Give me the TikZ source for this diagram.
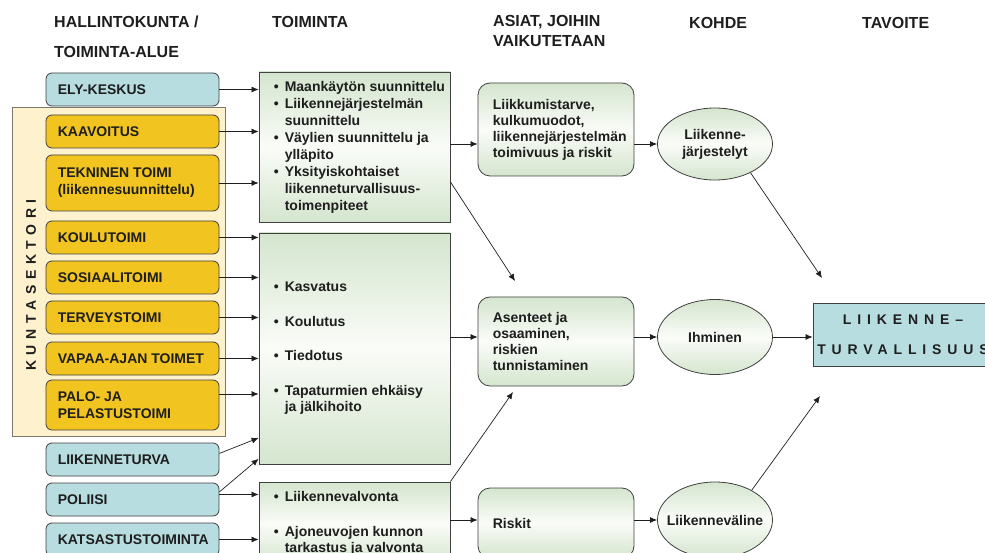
\documentclass[tikz,border=0pt]{standalone}
\usepackage{fontspec}
\setmainfont{Liberation Sans}
\usetikzlibrary{shapes.geometric,arrows.meta}
\definecolor{bluefill}{RGB}{183,221,224}
\definecolor{yellowfill}{RGB}{242,196,32}
\definecolor{kuntabg}{RGB}{254,242,206}
\definecolor{kuntaedge}{RGB}{120,120,110}
\definecolor{greenshade}{RGB}{212,229,206}
\definecolor{greenlight}{RGB}{250,252,248}
\definecolor{edge}{RGB}{64,64,64}
\definecolor{ink}{RGB}{30,30,30}
\newcommand\bul{\makebox[11pt][l]{•}}
\newcommand\ind{\hspace*{11pt}}
\begin{document}
\begin{tikzpicture}[x=1pt,y=-1pt,
  font=\fontsize{14}{17}\selectfont\bfseries, text=ink,
  leftbox/.style={draw=edge, line width=0.8pt, rounded corners=6pt, minimum width=173pt, inner sep=0pt},
  bluebox/.style={leftbox, fill=bluefill},
  yelbox/.style={leftbox, fill=yellowfill},
  greenfill/.style={top color=greenshade, bottom color=greenshade, middle color=greenlight},
  actbox/.style={draw=edge, line width=0.8pt, minimum width=191pt, inner sep=0pt, greenfill},
  issuebox/.style={draw=edge, line width=0.8pt, rounded corners=12pt, minimum width=156pt, inner sep=0pt, greenfill},
  targetell/.style={ellipse, draw=edge, line width=0.8pt, minimum width=115pt, inner sep=0pt, greenfill},
  lbl/.style={anchor=west, inner sep=0pt, align=left},
  ctr/.style={inner sep=0pt, align=center},
  hdr/.style={anchor=base west, inner sep=0pt, font=\fontsize{16}{19}\selectfont\bfseries},
  arr/.style={draw=ink, line width=0.7pt, -{Latex[length=7pt,width=6pt]}}
]
\useasboundingbox (0,0) rectangle (985,553);
\clip (0,0) rectangle (985,553);

% headers
\node[hdr] (h1a) at (54,28) {HALLINTOKUNTA /};
\node[hdr] (h1b) at (54,58) {TOIMINTA-ALUE};
\node[hdr] (h2) at (272,28) {TOIMINTA};
\node[hdr] (h3a) at (493,27) {ASIAT, JOIHIN};
\node[hdr] (h3b) at (493,47) {VAIKUTETAAN};
\node[hdr] (h4) at (689,29) {KOHDE};
\node[hdr] (h5) at (862,29) {TAVOITE};

% kuntasektori background
\node[draw=kuntaedge, line width=0.9pt, fill=kuntabg, minimum width=213pt, minimum height=329pt, inner sep=0pt] (kunta) at (118.5,271.5) {};
\node[rotate=90, inner sep=0pt] (kuntat) at (31,285) {\addfontfeature{LetterSpace=40}KUNTASEKTORI};

% left column
\node[bluebox, minimum height=33pt] (ely) at (132.5,89.5) {};
\node[yelbox, minimum height=33pt] (kaav) at (132.5,131.5) {};
\node[yelbox, minimum height=56pt] (tekn) at (132.5,183) {};
\node[yelbox, minimum height=33pt] (koul) at (132.5,237.5) {};
\node[yelbox, minimum height=33pt] (sos) at (132.5,277.5) {};
\node[yelbox, minimum height=33pt] (terv) at (132.5,317.5) {};
\node[yelbox, minimum height=33pt] (vapaa) at (132.5,358.5) {};
\node[yelbox, minimum height=50pt] (palo) at (132.5,405) {};
\node[bluebox, minimum height=33pt] (lt) at (132.5,459.5) {};
\node[bluebox, minimum height=33pt] (po) at (132.5,499.5) {};
\node[bluebox, minimum height=33pt] (kat) at (132.5,539.5) {};

\node[lbl] (elyt) at ([xshift=12pt]ely.west) {ELY-KESKUS};
\node[lbl] (kaavt) at ([xshift=12pt]kaav.west) {KAAVOITUS};
\node[lbl] (teknt) at ([xshift=12pt]tekn.west) {TEKNINEN TOIMI\\(liikennesuunnittelu)};
\node[lbl] (koult) at ([xshift=12pt]koul.west) {KOULUTOIMI};
\node[lbl] (sost) at ([xshift=12pt]sos.west) {SOSIAALITOIMI};
\node[lbl] (tervt) at ([xshift=12pt]terv.west) {TERVEYSTOIMI};
\node[lbl] (vapaat) at ([xshift=12pt]vapaa.west) {VAPAA-AJAN TOIMET};
\node[lbl] (palot) at ([xshift=12pt]palo.west) {PALO- JA\\PELASTUSTOIMI};
\node[lbl] (ltt) at ([xshift=12pt]lt.west) {LIIKENNETURVA};
\node[lbl] (pot) at ([xshift=12pt]po.west) {POLIISI};
\node[lbl] (katt) at ([xshift=12pt]kat.west) {KATSASTUSTOIMINTA};

% toiminta
\node[actbox, minimum height=150pt] (t1) at (354.5,147) {};
\node[actbox, minimum height=231pt] (t2) at (354.5,348.5) {};
\node[actbox, minimum height=83pt] (t3) at (354.5,523.5) {};
\node[lbl] (t1t) at ([xshift=15pt]t1.west) {\bul Maankäytön suunnittelu\\ \bul Liikennejärjestelmän\\ \ind suunnittelu\\ \bul Väylien suunnittelu ja\\ \ind ylläpito\\ \bul Yksityiskohtaiset\\ \ind liikenneturvallisuus-\\ \ind toimenpiteet};
\node[lbl, font=\fontsize{14}{16.5}\selectfont\bfseries] (t2t) at ([xshift=15pt]t2.west) {\bul Kasvatus\\[18pt] \bul Koulutus\\[18pt] \bul Tiedotus\\[18pt] \bul Tapaturmien ehkäisy\\ \ind ja jälkihoito};
\node[lbl, font=\fontsize{14}{16.5}\selectfont\bfseries] (t3t) at ([xshift=15pt]t3.west) {\bul Liikennevalvonta\\[18pt] \bul Ajoneuvojen kunnon\\ \ind tarkastus ja valvonta};

% asiat
\node[issuebox, minimum height=93pt] (a1) at (556,129.5) {};
\node[issuebox, minimum height=89pt] (a2) at (556,341.5) {};
\node[issuebox, minimum height=70pt] (a3) at (556,523) {};
\node[lbl, font=\fontsize{14}{16}\selectfont\bfseries] (a1t) at ([xshift=15pt]a1.west) {Liikkumistarve,\\kulkumuodot,\\liikennejärjestelmän\\toimivuus ja riskit};
\node[lbl, font=\fontsize{14}{16}\selectfont\bfseries] (a2t) at ([xshift=15pt]a2.west) {Asenteet ja\\osaaminen,\\riskien\\tunnistaminen};
\node[lbl] (a3t) at ([xshift=15pt]a3.west) {Riskit};

% kohde
\node[targetell, minimum height=72pt] (e1) at (715,144) {};
\node[targetell, minimum height=75pt] (e2) at (715,337) {};
\node[targetell, minimum height=76pt] (e3) at (715,520) {};
\node[ctr] (e1t) at (e1.center) {Liikenne-\\järjestelyt};
\node[ctr] (e2t) at (e2.center) {Ihminen};
\node[ctr] (e3t) at (e3.center) {Liikenneväline};

% tavoite
\node[draw=edge, line width=0.8pt, fill=bluefill, minimum width=180pt, minimum height=63pt, inner sep=0pt, align=center] (tv) at (903,334.5)
  {\addfontfeature{LetterSpace=42}LIIKENNE–\\[13pt]\addfontfeature{LetterSpace=42}TURVALLISUUS};

% free arrow ends
\coordinate (tip1) at (515,281);
\coordinate (tip2) at (513,392);
\coordinate (tip3) at (822,278);
\coordinate (tip4) at (820,396);

% connectors left -> toiminta
\draw[arr] (ely.east) -- (ely.east -| t1.west);
\draw[arr] (kaav.east) -- (kaav.east -| t1.west);
\draw[arr] (tekn.east) -- (tekn.east -| t1.west);
\draw[arr] (koul.east) -- (koul.east -| t2.west);
\draw[arr] (sos.east) -- (sos.east -| t2.west);
\draw[arr] (terv.east) -- (terv.east -| t2.west);
\draw[arr] (vapaa.east) -- (vapaa.east -| t2.west);
\draw[arr] ([yshift=11pt]palo.east) -- ([yshift=11pt]palo.east -| t2.west);
\draw[arr] (lt.4) -- (t2.223);
\draw[arr] (po.5) -- (t2.229.7);
\draw[arr] ([yshift=5pt]po.east) -- ([yshift=5pt]po.east -| t3.west);
\draw[arr] (kat.east) -- (kat.east -| t3.west);

% toiminta -> asiat
\draw[arr] (t1.east |- e1.west) -- (a1.west |- e1.west);
\draw[arr] (t1.-20) -- (tip1);
\draw[arr] (t2.east |- e2.west) -- (a2.west |- e2.west);
\draw[arr] (t3.north east) -- (tip2);
\draw[arr] (t3.east |- e3.west) -- (a3.west |- e3.west);

% asiat -> kohde
\draw[arr] (a1.east |- e1.west) -- (e1.west);
\draw[arr] (a2.east |- e2.west) -- (e2.west);
\draw[arr] (a3.east |- e3.west) -- (e3.west);

% kohde -> tavoite
\draw[arr] (e1.-39) -- (tip3);
\draw[arr] (e2.east) -- (e2.east -| tv.west);
\draw[arr] (e3.39) -- (tip4);
\end{tikzpicture}
\end{document}
